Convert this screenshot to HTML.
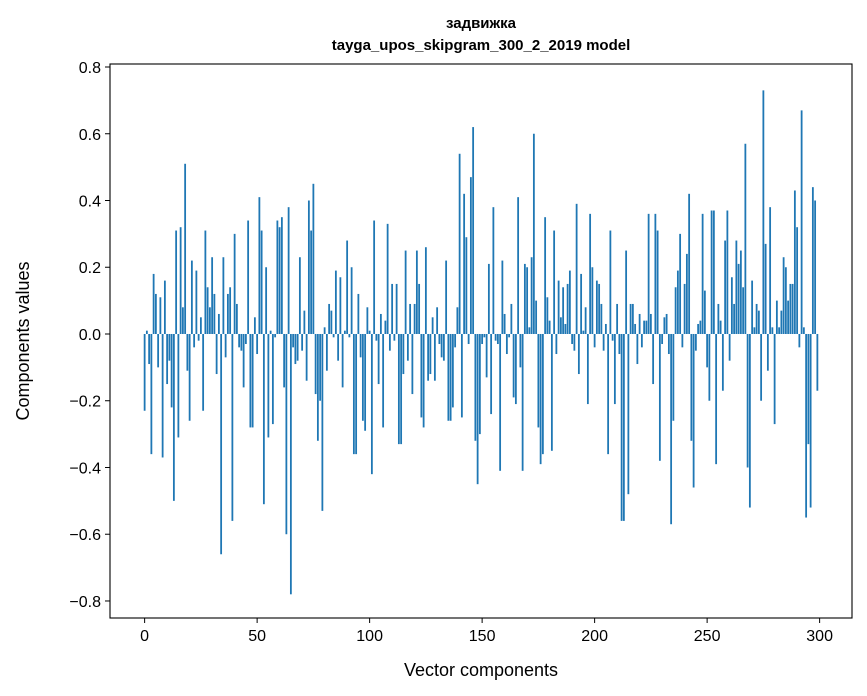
<!DOCTYPE html>
<html><head><meta charset="utf-8"><style>
body{margin:0;background:#fff;}
svg{display:block;font-family:"Liberation Sans","DejaVu Sans",sans-serif;}
</style></head><body>
<svg id="chart" width="867" height="696"></svg>
<script>
const values = [-0.23,0.01,-0.09,-0.36,0.18,0.12,-0.10,0.11,-0.37,0.16,
-0.15,-0.08,-0.22,-0.50,0.31,-0.31,0.32,0.08,0.51,-0.11,
-0.26,0.22,-0.04,0.19,-0.02,0.05,-0.23,0.31,0.14,0.08,
0.23,0.12,-0.12,0.06,-0.66,0.23,-0.07,0.12,0.14,-0.56,
0.30,0.09,-0.04,-0.05,-0.16,-0.03,0.34,-0.28,-0.28,0.05,
-0.06,0.41,0.31,-0.51,0.20,-0.31,0.01,-0.27,-0.01,0.34,
0.32,0.35,-0.16,-0.60,0.38,-0.78,-0.04,-0.09,-0.08,0.23,
-0.05,0.07,-0.14,0.40,0.31,0.45,-0.18,-0.32,-0.20,-0.53,
0.02,-0.11,0.09,0.07,-0.01,0.19,-0.08,0.17,-0.16,0.01,
0.28,-0.01,0.20,-0.36,-0.36,0.12,-0.07,-0.26,-0.29,0.08,
0.01,-0.42,0.34,-0.02,-0.15,0.06,-0.28,0.04,0.33,-0.05,
0.15,-0.02,0.15,-0.33,-0.33,-0.12,0.25,-0.08,0.09,-0.18,
0.09,0.25,0.15,-0.25,-0.28,0.26,-0.14,-0.12,0.05,-0.14,
0.08,-0.03,-0.07,-0.08,0.22,-0.26,-0.26,-0.22,-0.04,0.08,
0.54,-0.25,0.42,0.29,-0.03,0.47,0.62,-0.32,-0.45,-0.30,
-0.03,-0.01,-0.13,0.21,-0.24,0.38,-0.02,-0.03,-0.41,0.22,
0.06,-0.06,-0.01,0.09,-0.19,-0.21,0.41,-0.10,-0.41,0.21,
0.20,0.02,0.23,0.60,0.10,-0.28,-0.39,-0.36,0.35,0.11,
0.04,-0.35,0.31,-0.06,0.16,0.05,0.14,0.03,0.15,0.19,
-0.03,-0.05,0.39,-0.12,0.18,0.01,0.08,-0.21,0.36,0.20,
-0.04,0.16,0.15,0.09,-0.05,0.03,-0.36,0.31,-0.02,-0.21,
0.09,-0.06,-0.56,-0.56,0.25,-0.48,0.09,0.09,0.03,-0.09,
0.06,-0.04,0.04,0.04,0.36,0.06,-0.15,0.36,0.31,-0.38,
-0.03,0.05,0.06,-0.06,-0.57,-0.26,0.14,0.19,0.30,-0.04,
0.15,0.24,0.42,-0.32,-0.46,-0.05,0.03,0.04,0.36,0.13,
-0.10,-0.20,0.37,0.37,-0.39,0.09,0.04,-0.17,0.28,0.37,
-0.08,0.17,0.09,0.28,0.21,0.25,0.14,0.57,-0.40,-0.52,
0.16,0.02,0.09,0.07,-0.20,0.73,0.27,-0.11,0.38,0.02,
-0.27,0.10,0.02,0.07,0.23,0.20,0.10,0.15,0.15,0.43,
0.32,-0.04,0.67,0.02,-0.55,-0.33,-0.52,0.44,0.40,-0.17];
const xTicks = [0,50,100,150,200,250,300];
const yTicks = [-0.8,-0.6,-0.4,-0.2,0.0,0.2,0.4,0.6,0.8];

const NS="http://www.w3.org/2000/svg";
const svg=document.getElementById('chart');
const L=110,T=64,R=852,B=618;
const xMin=-15.39,xMax=314.39,yMin=-0.851,yMax=0.809;
const xs=v=>L+(v-xMin)/(xMax-xMin)*(R-L);
const ys=v=>T+(yMax-v)/(yMax-yMin)*(B-T);
function mk(tag,attrs,txt){const e=document.createElementNS(NS,tag);for(const k in attrs)e.setAttribute(k,attrs[k]);if(txt!==undefined)e.textContent=txt;svg.appendChild(e);return e;}

values.forEach((v,i)=>{
  const x0=xs(i-0.4),x1=xs(i+0.4),y0=ys(Math.max(v,0)),y1=ys(Math.min(v,0));
  const r=mk('rect',{x:x0,y:y0,width:x1-x0,height:Math.max(y1-y0,0.3),fill:'#1f77b4'});
  
  
});
const frame=mk('rect',{x:L,y:T,width:R-L,height:B-T,fill:'none',stroke:'#000','stroke-width':1.1});


xTicks.forEach(t=>{
  const x=xs(t);
  mk('line',{x1:x,x2:x,y1:B,y2:B+5,stroke:'#000'});
  const tx=mk('text',{x:x,y:B+23,'text-anchor':'middle','font-size':16},String(t));
  
  
});
yTicks.forEach(t=>{
  const y=ys(t);
  mk('line',{x1:L-5,x2:L,y1:y,y2:y,stroke:'#000'});
  const tx=mk('text',{x:L-9,y:y+6,'text-anchor':'end','font-size':16},(t<0?'\u2212':'')+Math.abs(t).toFixed(1));
  
  
});
let e;
e=mk('text',{x:481,y:676,'text-anchor':'middle','font-size':18},'Vector components');


e=mk('text',{x:0,y:0,'text-anchor':'middle','font-size':18,transform:'translate(29,341) rotate(-90)'},'Components values');


e=mk('text',{x:481,y:28,'text-anchor':'middle','font-size':15,'font-weight':'bold'},'задвижка');


e=mk('text',{x:481,y:50,'text-anchor':'middle','font-size':15,'font-weight':'bold'},'tayga_upos_skipgram_300_2_2019 model');


</script>
</body></html>
